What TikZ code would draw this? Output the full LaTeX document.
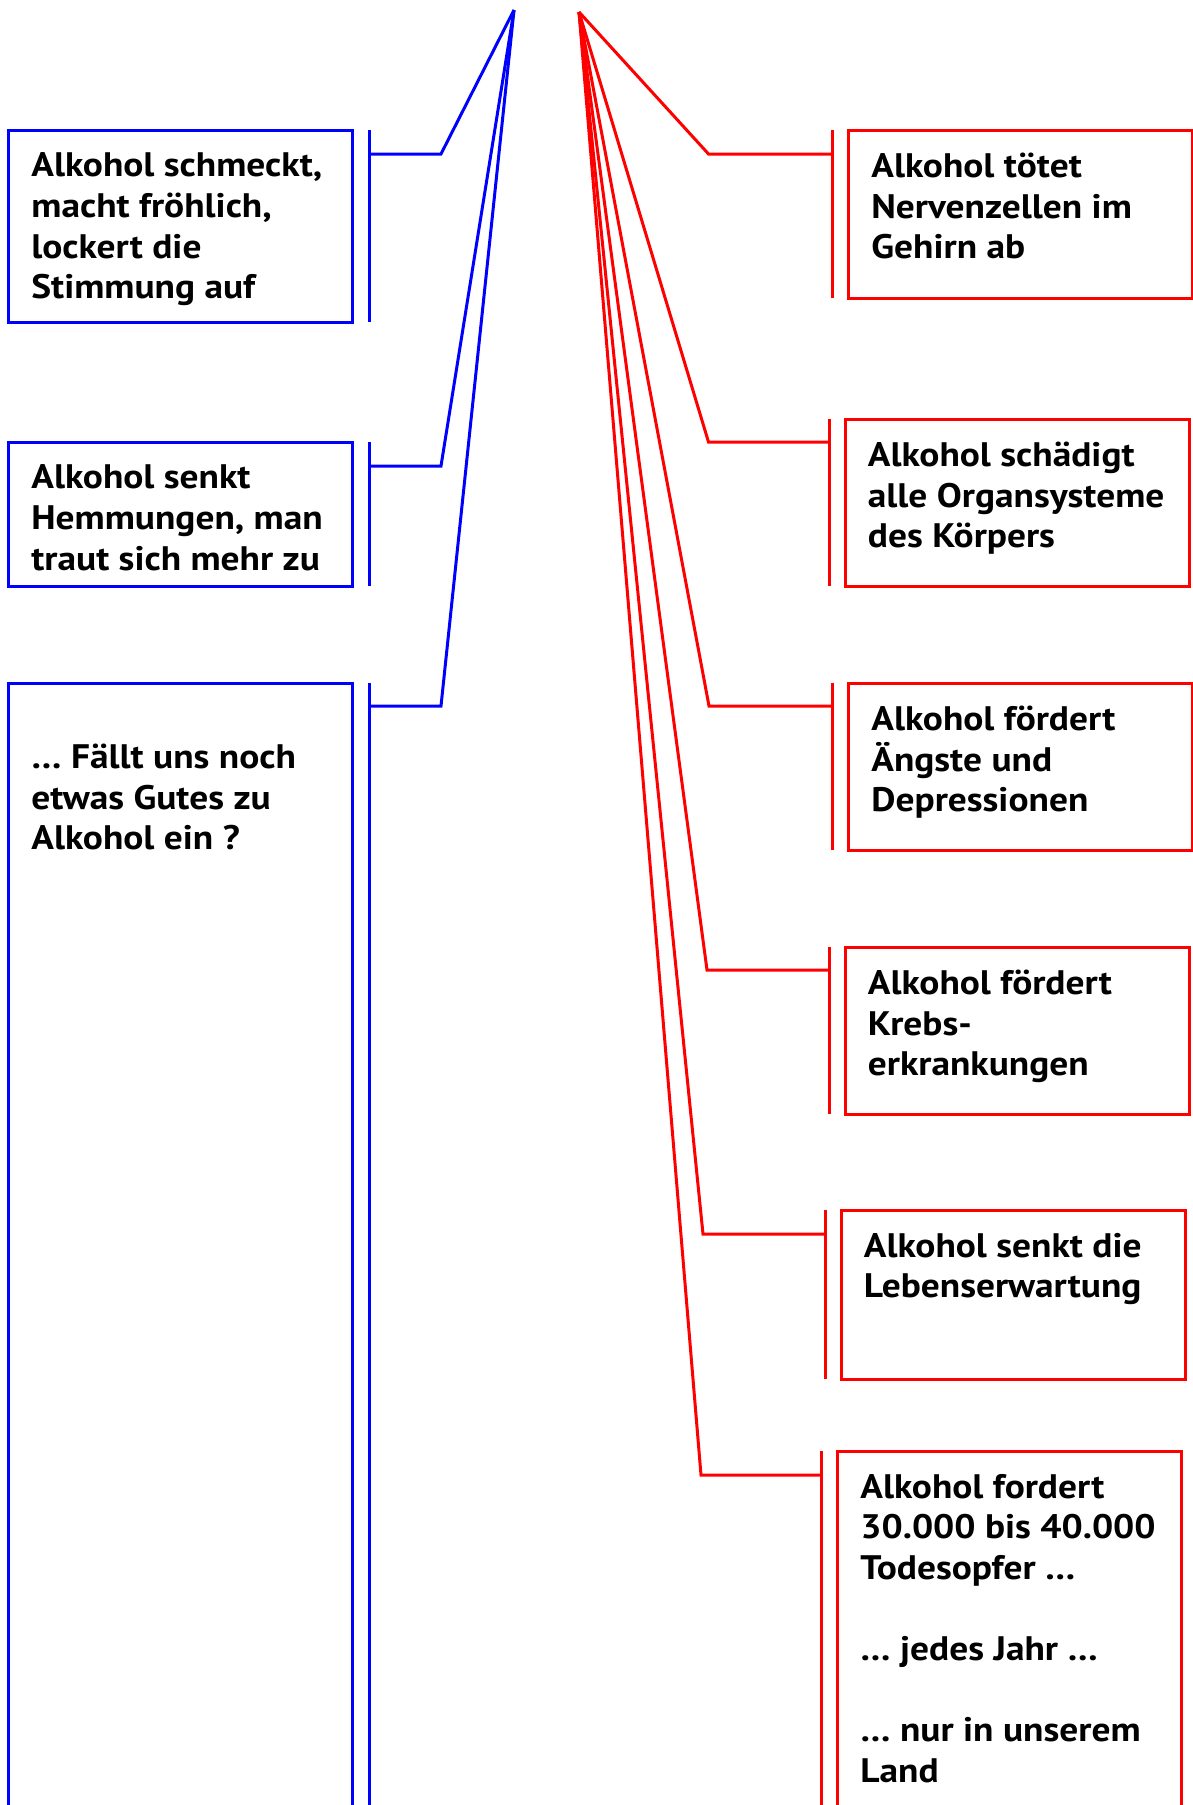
\documentclass[tikz,border=0pt]{standalone}
\usepackage{fontspec}
\setmainfont{PT Sans}[FakeStretch=1.1]
\tikzset{
  gutlinie/.style={draw=blue, line width=1.5pt},
  schadlinie/.style={draw=red, line width=1.5pt},
  kasten/.style={rectangle, inner sep=0pt, outer sep=0pt, minimum width=172pt, anchor=north west},
  txt/.style={inner sep=0pt, anchor=north west, align=left, font=\fontsize{17}{20.3}\selectfont\bfseries, execute at begin node=\strut},
}

\begin{document}
\begin{tikzpicture}[x=1pt, y=-1pt]
      \clip (0,0) rectangle (596.5,902.5);
      % Spitzen
      \coordinate (gutspitze) at (257,5);
      \coordinate (schadspitze) at (289.5,6);

      % Gute Seite
      \node[kasten, gutlinie, minimum height=96pt] (gut1) at (4.25,65) {};
      \node[kasten, gutlinie, minimum height=72pt] (gut2) at (4.25,221) {};
      \node[kasten, gutlinie, minimum height=600pt] (gut3) at (4.25,341.5) {};
      \node[txt] (gut1txt) at ([xshift=11.25pt, yshift=-11.3pt]gut1.north west) {Alkohol schmeckt,\\macht fröhlich,\\lockert die\\Stimmung auf};
      \node[txt] (gut2txt) at ([xshift=11.25pt, yshift=-11.3pt]gut2.north west) {Alkohol senkt\\Hemmungen, man\\traut sich mehr zu};
      \node[txt] (gut3txt) at ([xshift=11.25pt, yshift=-30.3pt]gut3.north west) {… Fällt uns noch\\etwas Gutes zu\\Alkohol ein ?};
      \coordinate (gutbar1) at ([xshift=8.5pt]gut1.east);
      \coordinate (gutbar2) at ([xshift=8.5pt]gut2.east);
      \coordinate (gutbar3) at ([xshift=8.5pt]gut3.east);
      \draw[gutlinie] (gutbar1 |- gut1.north) -- (gutbar1 |- gut1.south);
      \draw[gutlinie] (gutbar2 |- gut2.north) -- (gutbar2 |- gut2.south);
      \draw[gutlinie] (gutbar3 |- gut3.north) -- (gutbar3 |- gut3.south);
      \coordinate (gutknick1) at (220.5,77);
      \coordinate (gutknick2) at (220.5,233);
      \coordinate (gutknick3) at (220.5,353);
      \draw[gutlinie] (gutspitze) -- (gutknick1) -- (gutknick1 -| gutbar1);
      \draw[gutlinie] (gutspitze) -- (gutknick2) -- (gutknick2 -| gutbar2);
      \draw[gutlinie] (gutspitze) -- (gutknick3) -- (gutknick3 -| gutbar3);

      % Schaedliche Seite
      \node[kasten, schadlinie, minimum height=84pt] (schad1) at (424.25,65) {};
      \node[kasten, schadlinie, minimum height=83.5pt] (schad2) at (422.5,209.5) {};
      \node[kasten, schadlinie, minimum height=83.5pt] (schad3) at (424.25,341.5) {};
      \node[kasten, schadlinie, minimum height=83.5pt] (schad4) at (422.5,473.5) {};
      \node[kasten, schadlinie, minimum height=84.5pt] (schad5) at (420.5,605) {};
      \node[kasten, schadlinie, minimum height=200pt] (schad6) at (418.75,725.5) {};
      \node[txt] (schad1txt) at ([xshift=11.25pt, yshift=-11.3pt]schad1.north west) {Alkohol tötet\\Nervenzellen im\\Gehirn ab};
      \node[txt] (schad2txt) at ([xshift=11.25pt, yshift=-11.3pt]schad2.north west) {Alkohol schädigt\\alle Organsysteme\\des Körpers};
      \node[txt] (schad3txt) at ([xshift=11.25pt, yshift=-11.3pt]schad3.north west) {Alkohol fördert\\Ängste und\\Depressionen};
      \node[txt] (schad4txt) at ([xshift=11.25pt, yshift=-11.3pt]schad4.north west) {Alkohol fördert\\Krebs-\\erkrankungen};
      \node[txt] (schad5txt) at ([xshift=11.25pt, yshift=-11.3pt]schad5.north west) {Alkohol senkt die\\Lebenserwartung};
      \node[txt] (schad6txt) at ([xshift=11.25pt, yshift=-11.3pt]schad6.north west) {Alkohol fordert\\30.000 bis 40.000\\Todesopfer …\\[20.3pt]… jedes Jahr …\\[20.3pt]… nur in unserem\\Land};
      \coordinate (schadbar1) at ([xshift=-8pt]schad1.west);
      \coordinate (schadbar2) at ([xshift=-8pt]schad2.west);
      \coordinate (schadbar3) at ([xshift=-8pt]schad3.west);
      \coordinate (schadbar4) at ([xshift=-8pt]schad4.west);
      \coordinate (schadbar5) at ([xshift=-8pt]schad5.west);
      \coordinate (schadbar6) at ([xshift=-8pt]schad6.west);
      \draw[schadlinie] (schadbar1 |- schad1.north) -- (schadbar1 |- schad1.south);
      \draw[schadlinie] (schadbar2 |- schad2.north) -- (schadbar2 |- schad2.south);
      \draw[schadlinie] (schadbar3 |- schad3.north) -- (schadbar3 |- schad3.south);
      \draw[schadlinie] (schadbar4 |- schad4.north) -- (schadbar4 |- schad4.south);
      \draw[schadlinie] (schadbar5 |- schad5.north) -- (schadbar5 |- schad5.south);
      \draw[schadlinie] (schadbar6 |- schad6.north) -- (schadbar6 |- schad6.south);
      \coordinate (schadknick1) at (354.25,77);
      \coordinate (schadknick2) at (354.25,221);
      \coordinate (schadknick3) at (354.5,353);
      \coordinate (schadknick4) at (353.5,485);
      \coordinate (schadknick5) at (351.5,617);
      \coordinate (schadknick6) at (350.5,737.5);
      \draw[schadlinie] (schadspitze) -- (schadknick1) -- (schadknick1 -| schadbar1);
      \draw[schadlinie] (schadspitze) -- (schadknick2) -- (schadknick2 -| schadbar2);
      \draw[schadlinie] (schadspitze) -- (schadknick3) -- (schadknick3 -| schadbar3);
      \draw[schadlinie] (schadspitze) -- (schadknick4) -- (schadknick4 -| schadbar4);
      \draw[schadlinie] (schadspitze) -- (schadknick5) -- (schadknick5 -| schadbar5);
      \draw[schadlinie] (schadspitze) -- (schadknick6) -- (schadknick6 -| schadbar6);
\end{tikzpicture}
\end{document}
